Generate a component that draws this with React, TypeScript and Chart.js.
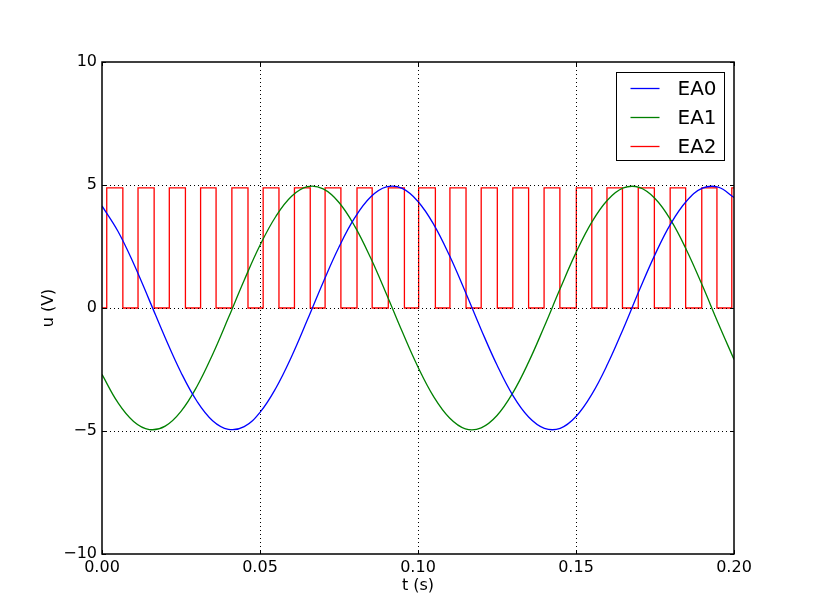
import { useEffect, useRef } from "react";
import { Chart, registerables } from "chart.js";

Chart.register(...registerables);

// ---- data ----
const timeS = [
  0, 0.005, 0.01, 0.015, 0.02, 0.025, 0.03, 0.035, 0.04, 0.045,
  0.05, 0.055, 0.06, 0.065, 0.07, 0.075, 0.08, 0.085, 0.09, 0.095,
  0.1, 0.105, 0.11, 0.115, 0.12, 0.125, 0.13, 0.135, 0.14, 0.145,
  0.15, 0.155, 0.16, 0.165, 0.17, 0.175, 0.18, 0.185, 0.19, 0.195, 0.2,
];
const ea0 = [
  4.15, 3.13, 1.81, 0.31, -1.21, -2.62, -3.78, -4.58, -4.93, -4.82,
  -4.24, -3.26, -1.97, -0.48, 1.05, 2.48, 3.67, 4.51, 4.92, 4.86,
  4.33, 3.39, 2.12, 0.65, -0.88, -2.32, -3.55, -4.43, -4.89, -4.89,
  -4.41, -3.51, -2.28, -0.83, 0.71, 2.17, 3.43, 4.35, 4.87, 4.91, 4.49,
];
const ea1 = [
  -2.7, -3.84, -4.61, -4.94, -4.8, -4.2, -3.2, -1.89, -0.4, 1.13,
  2.55, 3.72, 4.54, 4.93, 4.84, 4.29, 3.32, 2.04, 0.57, -0.96,
  -2.4, -3.61, -4.47, -4.91, -4.87, -4.37, -3.45, -2.2, -0.74, 0.79,
  2.25, 3.49, 4.39, 4.88, 4.9, 4.45, 3.57, 2.35, 0.91, -0.62, -2.09,
];
const ea2High = 4.88;
const ea2Low = 0;
const ea2Rises = [
  0.0015, 0.0114, 0.0213, 0.0312, 0.0411, 0.051, 0.0609, 0.0706, 0.0807, 0.0906,
  0.1002, 0.1101, 0.12, 0.13, 0.1399, 0.1501, 0.1598, 0.1697, 0.1798, 0.1898, 0.1993,
];
const ea2Falls = [
  0.0066, 0.0165, 0.0264, 0.0361, 0.0462, 0.056, 0.0659, 0.0756, 0.0855, 0.0957,
  0.1055, 0.1152, 0.1251, 0.135, 0.1449, 0.155, 0.1647, 0.1748, 0.1847, 0.1946,
];
const xTickValues = [0, 0.05, 0.1, 0.15, 0.2];
const yTickValues = [-10, -5, 0, 5, 10];
const seriesLabels = ["EA0", "EA1", "EA2"];
const seriesColors = ["#0000ff", "#008000", "#ff0000"];
const xTitle = "t (s)";
const yTitle = "u (V)";

const FONT = "'DejaVu Sans', sans-serif";

function buildSquare() {
  const events: { t: number; v: number }[] = [];
  ea2Rises.forEach((t) => events.push({ t, v: ea2High }));
  ea2Falls.forEach((t) => events.push({ t, v: ea2Low }));
  events.sort((a, b) => a.t - b.t);
  const pts: { x: number; y: number }[] = [{ x: timeS[0], y: ea2Low }];
  let level = ea2Low;
  for (const e of events) {
    pts.push({ x: e.t, y: level });
    pts.push({ x: e.t, y: e.v });
    level = e.v;
  }
  pts.push({ x: timeS[timeS.length - 1], y: level });
  return pts;
}

const fmtX = (v: number) => v.toFixed(2);
const fmtY = (v: number) => (v < 0 ? "\u2212" + Math.abs(v) : String(v));

const framePlugin = {
  id: "mplFrame",
  afterDatasetsDraw(chart: any) {
    const { ctx, chartArea: a, scales } = chart;
    const x = scales.x;
    const y = scales.y;
    ctx.save();
    // dotted grid
    ctx.strokeStyle = "#000";
    ctx.lineWidth = 1;
    ctx.setLineDash([1, 3]);
    for (const v of xTickValues) {
      const px = Math.round(x.getPixelForValue(v)) + 0.5;
      if (px <= a.left + 1 || px >= a.right - 1) continue;
      ctx.beginPath();
      ctx.moveTo(px, a.top);
      ctx.lineTo(px, a.bottom);
      ctx.stroke();
    }
    for (const v of yTickValues) {
      const py = Math.round(y.getPixelForValue(v)) + 0.5;
      if (py <= a.top + 1 || py >= a.bottom - 1) continue;
      ctx.beginPath();
      ctx.moveTo(a.left, py);
      ctx.lineTo(a.right, py);
      ctx.stroke();
    }
    ctx.setLineDash([]);
    // inward ticks
    const tl = 4;
    ctx.lineWidth = 1;
    for (const v of xTickValues) {
      const px = Math.round(x.getPixelForValue(v)) + 0.5;
      ctx.beginPath();
      ctx.moveTo(px, a.bottom);
      ctx.lineTo(px, a.bottom - tl);
      ctx.moveTo(px, a.top);
      ctx.lineTo(px, a.top + tl);
      ctx.stroke();
    }
    for (const v of yTickValues) {
      const py = Math.round(y.getPixelForValue(v)) + 0.5;
      ctx.beginPath();
      ctx.moveTo(a.left, py);
      ctx.lineTo(a.left + tl, py);
      ctx.moveTo(a.right, py);
      ctx.lineTo(a.right - tl, py);
      ctx.stroke();
    }
    // frame
    ctx.lineWidth = 1.5;
    ctx.strokeRect(a.left, a.top, a.right - a.left, a.bottom - a.top);

    // legend
    const bw = 108;
    const bh = 88;
    const bx = Math.round(a.right - 10 - bw) + 0.5;
    const by = Math.round(a.top + 10) + 0.5;
    ctx.fillStyle = "#fff";
    ctx.fillRect(bx, by, bw, bh);
    ctx.strokeStyle = "#000";
    ctx.lineWidth = 1;
    ctx.strokeRect(bx, by, bw, bh);
    ctx.font = `20px ${FONT}`;
    ctx.textBaseline = "middle";
    ctx.textAlign = "left";
    chart.data.datasets.forEach((ds: any, i: number) => {
      const ly = by + 16 + i * 29;
      ctx.strokeStyle = ds.borderColor;
      ctx.lineWidth = 1.3;
      ctx.beginPath();
      ctx.moveTo(bx + 14, ly);
      ctx.lineTo(bx + 43, ly);
      ctx.stroke();
      ctx.fillStyle = "#000";
      ctx.fillText(ds.label, bx + 61, ly + 1);
    });
    ctx.restore();
  },
};

export default function App() {
  const ref = useRef<HTMLCanvasElement>(null);
  useEffect(() => {
    document.body.style.margin = "0";
    const canvas = ref.current;
    if (!canvas) return;
    const lineData = (vals: number[]) => timeS.map((t, i) => ({ x: t, y: vals[i] }));
    const chart = new Chart(canvas, {
      type: "line",
      data: {
        datasets: [
          {
            label: seriesLabels[0],
            data: lineData(ea0),
            borderColor: seriesColors[0],
            borderWidth: 1.3,
            pointRadius: 0,
            tension: 0.4,
            fill: false,
          },
          {
            label: seriesLabels[1],
            data: lineData(ea1),
            borderColor: seriesColors[1],
            borderWidth: 1.3,
            pointRadius: 0,
            tension: 0.4,
            fill: false,
          },
          {
            label: seriesLabels[2],
            data: buildSquare(),
            borderColor: seriesColors[2],
            borderWidth: 1.3,
            pointRadius: 0,
            tension: 0,
            fill: false,
          },
        ],
      },
      options: {
        responsive: false,
        animation: false,
        devicePixelRatio: 1,
        layout: { padding: { left: 0, top: 62, right: 81, bottom: 0 } },
        plugins: {
          legend: { display: false },
          tooltip: { enabled: false },
        },
        scales: {
          x: {
            type: "linear",
            min: 0,
            max: 0.2,
            afterBuildTicks: (s: any) => {
              s.ticks = xTickValues.map((v) => ({ value: v }));
            },
            afterFit: (s: any) => {
              s.height = 61;
            },
            grid: { display: false, drawTicks: false },
            border: { display: false },
            ticks: {
              autoSkip: false,
              maxRotation: 0,
              padding: 4,
              color: "#000",
              font: { family: FONT, size: 16 },
              callback: (v: any) => fmtX(Number(v)),
            },
            title: {
              display: true,
              text: xTitle,
              color: "#000",
              font: { family: FONT, size: 16 },
              padding: { top: 0, bottom: 20 },
            },
          },
          y: {
            type: "linear",
            min: -10,
            max: 10,
            afterBuildTicks: (s: any) => {
              s.ticks = yTickValues.map((v) => ({ value: v }));
            },
            afterFit: (s: any) => {
              s.width = 102;
            },
            grid: { display: false, drawTicks: false },
            border: { display: false },
            ticks: {
              padding: 5,
              color: "#000",
              font: { family: FONT, size: 16 },
              callback: (v: any) => fmtY(Number(v)),
            },
            title: {
              display: true,
              text: yTitle,
              color: "#000",
              font: { family: FONT, size: 16 },
              padding: { top: 39, bottom: 0 },
            },
          },
        },
      } as any,
      plugins: [framePlugin],
    });
    return () => chart.destroy();
  }, []);
  return (
    <div style={{ width: 815, height: 615, background: "#fff" }}>
      <canvas ref={ref} width={815} height={615} style={{ display: "block" }} />
    </div>
  );
}
